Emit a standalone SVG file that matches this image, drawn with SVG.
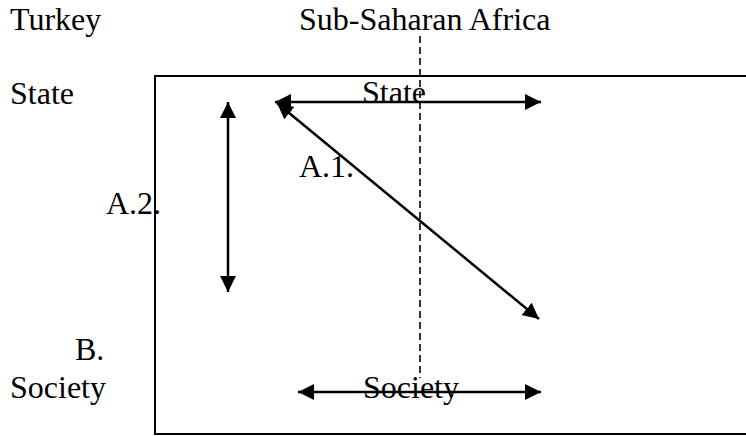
<svg xmlns="http://www.w3.org/2000/svg" width="746" height="436" viewBox="0 0 746 436">
  <style>
    text { font-family: "Liberation Serif", "Times New Roman", serif; font-size: 32px; fill: #000; }
    .frame { fill: none; stroke: #000; stroke-width: 2; }
    .arrow { stroke: #000; stroke-width: 2.5; fill: none; marker-start: url(#head); marker-end: url(#head); }
    .divider { stroke: #000; stroke-width: 1.6; stroke-dasharray: 7 4; fill: none; }
  </style>
  <defs>
    <marker id="head" markerUnits="userSpaceOnUse" markerWidth="18" markerHeight="18" viewBox="0 0 18 18" refX="16" refY="9" orient="auto-start-reverse">
      <path d="M0,1 L16,9 L0,17 z" fill="#000"/>
    </marker>
  </defs>
  <rect width="746" height="436" fill="#fff"/>

  <g id="frame">
    <rect class="frame" x="155" y="76" width="640" height="358"/>
  </g>

  <g id="header-turkey"><text x="10" y="30">Turkey</text></g>
  <g id="header-ssa"><text x="299" y="30">Sub-Saharan Africa</text></g>
  <g id="row-state"><text x="10" y="104">State</text></g>
  <g id="row-society"><text x="10" y="398">Society</text></g>
  <g id="label-b"><text x="75" y="360">B.</text></g>
  <g id="label-a2"><text x="106" y="214">A.2.</text></g>
  <g id="label-a1"><text x="299" y="177">A.1.</text></g>
  <g id="state-inner"><text x="362" y="103">State</text></g>
  <g id="society-inner"><text x="363" y="398">Society</text></g>

  <g id="connectors">
    <line class="divider" x1="420" y1="36" x2="420" y2="378"/>
    <line class="arrow" x1="275" y1="102" x2="541" y2="102"/>
    <line class="arrow" x1="277" y1="103" x2="539" y2="319"/>
    <line class="arrow" x1="228" y1="102" x2="228" y2="292"/>
    <line class="arrow" x1="298" y1="392" x2="541" y2="392"/>
  </g>
</svg>
